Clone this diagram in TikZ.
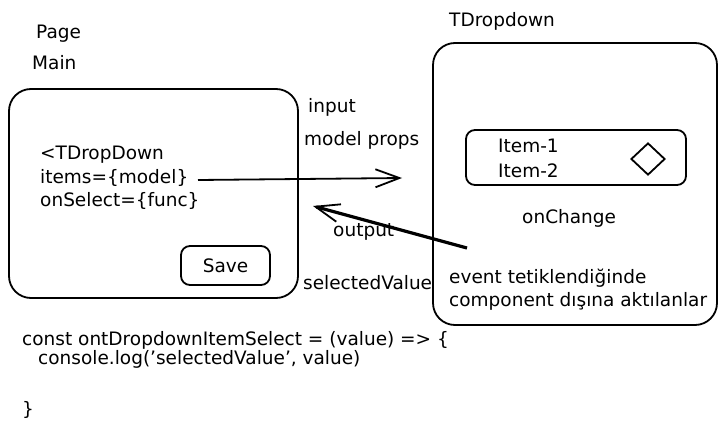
\documentclass[tikz,border=0pt]{standalone}
\usepackage{fontspec}
\setmainfont{DejaVu Sans}
\usetikzlibrary{arrows.meta,shapes.geometric}
\tikzset{
  lbl/.style={inner sep=0pt, anchor=base west, font=\fontsize{18.5}{22}\selectfont},
  frame/.style={draw, line width=1.8pt, rounded corners=22pt, inner sep=0pt},
  smallframe/.style={draw, line width=1.8pt, rounded corners=9pt, inner sep=0pt},
  flow/.style={line width=1.8pt, -{Straight Barb[length=24pt,width=18pt,line width=1.8pt]}},
  backflow/.style={line width=3.2pt, -{Straight Barb[length=24pt,width=18pt,line width=1.8pt]}}
}
\begin{document}
\begin{tikzpicture}[x=1pt,y=-1pt]
\useasboundingbox (0,0) rectangle (727,436);
% titles
\node[lbl] (page) at (36,39) {Page};
\node[lbl] (main) at (32,70) {Main};
\node[lbl] (tdtitle) at (449,27) {TDropdown};
% left box
\node[frame, minimum width=289pt, minimum height=209pt] (leftbox) at (153.5,193.5) {};
\node[lbl] (l1) at (40,159) {<TDropDown};
\node[lbl] (l2) at (40,183) {items=\{model\}};
\node[lbl] (l3) at (40,206) {onSelect=\{func\}};
\node[smallframe, minimum width=89pt, minimum height=39pt] (savebox) at (225.5,265.5) {};
\node[lbl, anchor=center] (save) at (225.5,266) {Save};
% right box
\node[frame, minimum width=284pt, minimum height=282pt] (rightbox) at (575,184) {};
\node[smallframe, minimum width=220pt, minimum height=55pt] (inner) at (576,157.5) {};
\node[lbl] (it1) at (498,152) {Item-1};
\node[lbl] (it2) at (498,177) {Item-2};
\node[draw, diamond, line width=1.8pt, minimum width=34pt, minimum height=32pt, inner sep=0pt] (dia) at (648,159) {};
\node[lbl] (onch) at (522,223) {onChange};
\node[lbl] (ev1) at (449,283) {event tetiklendiğinde};
\node[lbl] (ev2) at (449,306) {component dışına aktılanlar};
% middle labels
\node[lbl] (inp) at (308,112) {input};
\node[lbl] (mp) at (304,145) {model props};
\node[lbl] (outp) at (333,236) {output};
\node[lbl] (sv) at (303,289) {selectedValue};
% arrows
\coordinate (inS) at (198,180);
\coordinate (inE) at (402,178);
\draw[flow] (inS) -- (inE);
\coordinate (outS) at (467,248);
\coordinate (outE) at (313,206);
\draw[backflow] (outS) -- (outE);
% code
\node[lbl] (c1) at (22,345) {const ontDropdownItemSelect = (value) => \{};
\node[lbl] (c2) at (38,364) {console.log('selectedValue', value)};
\node[lbl] (c3) at (22,415) {\}};
\end{tikzpicture}
\end{document}
